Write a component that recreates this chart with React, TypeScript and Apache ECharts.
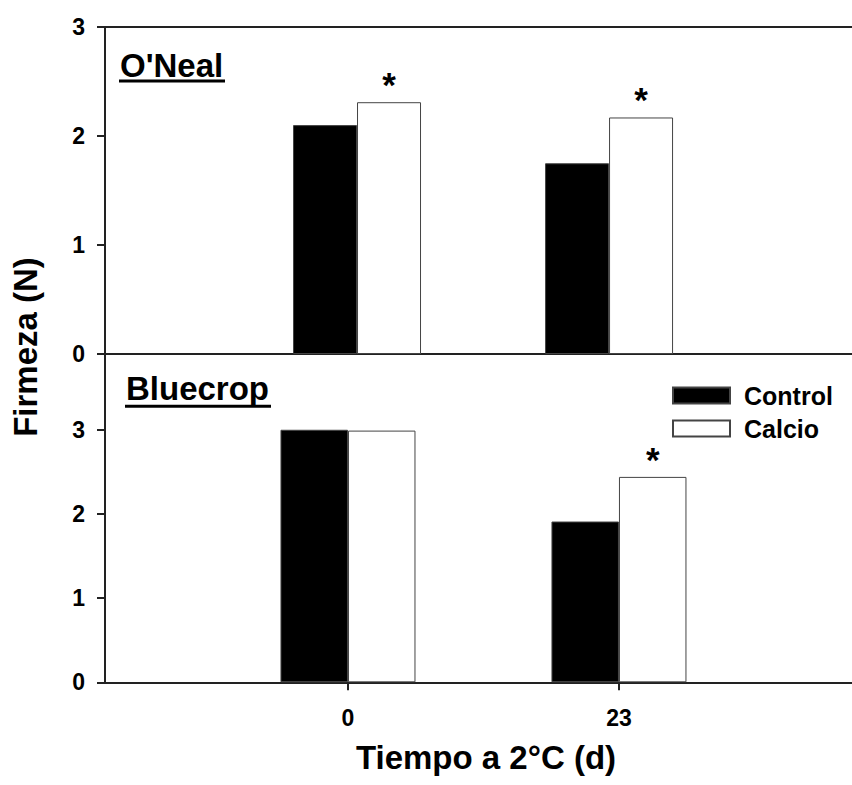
import React, { useEffect, useRef } from "react";
import * as echarts from "echarts";

const positions = [1, 2];
const timeLabels = ["0", "23"];
const oNealControl = [2.1, 1.75];
const oNealCalcio = [2.31, 2.17];
const oNealSig = [true, true];
const bluecropControl = [3.0, 1.91];
const bluecropCalcio = [2.99, 2.44];
const bluecropSig = [false, true];
const yTicksTop = [0, 1, 2, 3];
const yTicksBottom = [0, 1, 2, 3];

const FONT = "Liberation Sans, Arial, sans-serif";
const AXIS_COLOR = "#222";

function App() {
  const ref = useRef<HTMLDivElement>(null);
  useEffect(() => {
    if (!ref.current) return;
    const chart = echarts.init(ref.current, null, { renderer: "svg" });
    const pairs = (vals: number[]) => positions.map((p, i) => [p, vals[i]]);
    const sigPairs = (vals: number[], sig: boolean[]) =>
      positions.map((p, i) => ({ value: [p, vals[i]], label: { show: sig[i] } }));
    const starLabel = {
      show: false,
      position: "top" as const,
      formatter: "*",
      fontFamily: FONT,
      fontWeight: "bold" as const,
      fontSize: 35,
      color: "#000",
      distance: 0,
    };
    const yAxisCommon = (ticks: number[], max: number, gridIndex: number) => ({
      type: "value" as const,
      gridIndex,
      min: 0,
      max,
      axisLine: { show: true, lineStyle: { color: AXIS_COLOR, width: 2 } },
      axisTick: { show: true, inside: false, length: 8, customValues: ticks, lineStyle: { color: AXIS_COLOR, width: 2 } },
      axisLabel: {
        show: true,
        customValues: ticks,
        margin: 20,
        fontFamily: FONT,
        fontWeight: "bold" as const,
        fontSize: 23,
        color: "#000",
      },
      splitLine: { show: false },
    });
    chart.setOption({
      animation: false,
      backgroundColor: "#fff",
      grid: [
        { left: 105, right: 0, top: 27, height: 327 },
        { left: 105, right: 0, top: 354, height: 328.3 },
      ],
      xAxis: [
        {
          type: "value",
          gridIndex: 0,
          min: 0,
          max: 2.964,
          axisLine: { show: true, onZero: false, lineStyle: { color: AXIS_COLOR, width: 2 } },
          axisTick: { show: false },
          axisLabel: { show: false },
          splitLine: { show: false },
        },
        {
          type: "value",
          gridIndex: 0,
          position: "top",
          min: 0,
          max: 2.964,
          axisLine: { show: true, onZero: false, lineStyle: { color: AXIS_COLOR, width: 2 } },
          axisTick: { show: false },
          axisLabel: { show: false },
          splitLine: { show: false },
        },
        {
          type: "value",
          gridIndex: 1,
          min: 0.1033,
          max: 2.86,
          axisLine: { show: true, onZero: false, lineStyle: { color: AXIS_COLOR, width: 2 } },
          axisTick: { show: true, length: 8, customValues: positions, lineStyle: { color: AXIS_COLOR, width: 2 } },
          axisLabel: {
            show: true,
            customValues: positions,
            margin: 24,
            fontFamily: FONT,
            fontWeight: "bold",
            fontSize: 23,
            color: "#000",
            formatter: (v: number) => {
              const i = positions.indexOf(Math.round(v));
              return i >= 0 ? timeLabels[i] : "";
            },
          },
          splitLine: { show: false },
        },
      ],
      yAxis: [yAxisCommon(yTicksTop, 3, 0), yAxisCommon(yTicksBottom, 3.9, 1)],
      legend: {
        data: ["Control", "Calcio"],
        orient: "vertical",
        left: 672,
        top: 383,
        padding: 0,
        itemWidth: 57,
        itemHeight: 16,
        itemGap: 8,
        icon: "rect",
        textStyle: {
          fontFamily: FONT,
          fontWeight: "bold",
          fontSize: 25,
          lineHeight: 24,
          color: "#000",
          padding: [0, 0, 0, 9],
        },
      },
      series: [
        {
          name: "Control",
          type: "bar",
          xAxisIndex: 0,
          yAxisIndex: 0,
          barWidth: 64,
          barGap: "0%",
          data: pairs(oNealControl),
          itemStyle: { color: "#000", borderColor: "#444", borderWidth: 1 },
        },
        {
          name: "Calcio",
          type: "bar",
          xAxisIndex: 0,
          yAxisIndex: 0,
          barWidth: 64,
          barGap: "0%",
          data: sigPairs(oNealCalcio, oNealSig),
          itemStyle: { color: "#fff", borderColor: "#444", borderWidth: 1 },
          label: starLabel,
        },
        {
          name: "Control",
          type: "bar",
          xAxisIndex: 2,
          yAxisIndex: 1,
          barWidth: 67.5,
          barGap: "0%",
          data: pairs(bluecropControl),
          itemStyle: { color: "#000", borderColor: "#444", borderWidth: 1 },
        },
        {
          name: "Calcio",
          type: "bar",
          xAxisIndex: 2,
          yAxisIndex: 1,
          barWidth: 67.5,
          barGap: "0%",
          data: sigPairs(bluecropCalcio, bluecropSig),
          itemStyle: { color: "#fff", borderColor: "#444", borderWidth: 1 },
          label: starLabel,
        },
      ],
      graphic: [
        {
          type: "text",
          x: 120,
          y: 65,
          style: { text: "O'Neal", font: `bold 33px ${FONT}`, fill: "#000", align: "left", verticalAlign: "middle" },
        },
        { type: "line", shape: { x1: 119, y1: 81, x2: 225, y2: 81 }, style: { stroke: "#000", lineWidth: 3 } },
        {
          type: "text",
          x: 126,
          y: 388,
          style: { text: "Bluecrop", font: `bold 33px ${FONT}`, fill: "#000", align: "left", verticalAlign: "middle" },
        },
        { type: "line", shape: { x1: 125, y1: 406.3, x2: 271, y2: 406.3 }, style: { stroke: "#000", lineWidth: 3 } },
        {
          type: "text",
          x: 25,
          y: 347,
          rotation: Math.PI / 2,
          style: { text: "Firmeza (N)", font: `bold 33px ${FONT}`, fill: "#000", align: "center", verticalAlign: "middle" },
        },
        {
          type: "text",
          x: 486,
          y: 757,
          style: { text: "Tiempo a 2°C (d)", font: `bold 33px ${FONT}`, fill: "#000", align: "center", verticalAlign: "middle" },
        },
      ],
    });
    return () => chart.dispose();
  }, []);
  return <div ref={ref} style={{ position: "absolute", left: 0, top: 0, width: 852, height: 785 }} />;
}

export default App;
